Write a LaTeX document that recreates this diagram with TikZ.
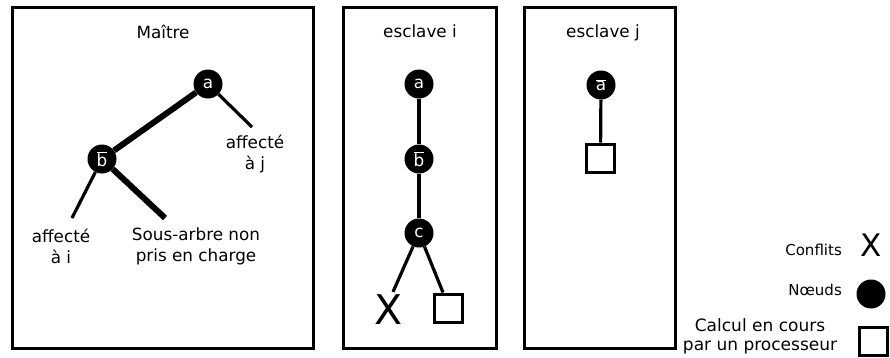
\documentclass[tikz,border=0pt]{standalone}
\usepackage{fontspec}
\setmainfont{DejaVu Sans}
\begin{document}
\begin{tikzpicture}[x=1pt,y=-1pt,
  panel/.style={draw,line width=3pt},
  nd/.style={circle,fill=black,minimum size=29pt,inner sep=0pt,text=white,font=\fontsize{16.8}{20}\selectfont},
  sq/.style={draw,line width=3pt,minimum size=28pt,inner sep=0pt,fill=white},
  cx/.style={inner sep=0pt,font=\fontsize{41}{41}\selectfont},
  lbl/.style={align=center,inner sep=0pt,font=\fontsize{16.8}{21}\selectfont},
  thin/.style={line width=3.2pt},
  thick/.style={line width=6pt}
]
\useasboundingbox (0,0) rectangle (890,357);
% panels
\draw[panel] (12,7) rectangle (313,348);
\draw[panel] (343,7) rectangle (496,348);
\draw[panel] (524,7) rectangle (675,348);
% titles
\node[lbl,anchor=base] (tm) at (163,38) {Maître};
\node[lbl,anchor=base] (ti) at (420,37) {esclave i};
\node[lbl,anchor=base] (tj) at (603,37) {esclave j};
% master tree
\node[nd] (ma) at (208,84) {a};
\node[nd] (mb) at (102,159) {$\overline{\mbox{b}}$};
\coordinate (maj) at (252,127);
\coordinate (mbi) at (72,218);
\coordinate (mbs) at (165,218);
\draw[thick] (ma) -- (mb);
\draw[thin] (ma) -- (maj);
\draw[thin] (mb) -- (mbi);
\draw[thick] (mb) -- (mbs);
\node[lbl] (lj) at (255,154) {affecté\\à j};
\node[lbl] (li) at (61,246) {affecté\\à i};
\node[lbl] (ls) at (196,246) {Sous-arbre non\\pris en charge};
% esclave i
\node[nd] (ia) at (419,84) {a};
\node[nd] (ib) at (419,159) {$\overline{\mbox{b}}$};
\node[nd] (ic) at (419,233) {c};
\node[cx] (ix) at (389,310) {X};
\node[sq] (is) at (448,308) {};
\draw[thin] (ia) -- (ib);
\draw[thin] (ib) -- (ic);
\draw[thin] (ic) -- ([xshift=4pt,yshift=3pt]ix.north);
\draw[thin] (ic) -- (is.north west -| 443,0);
% esclave j
\node[nd] (ja) at (601,85) {$\overline{\mbox{a}}$};
\node[sq] (js) at (600.5,158) {};
\draw[thin] (ja) -- (js);
% legend
\node[inner sep=0pt,anchor=base east,font=\fontsize{15}{18}\selectfont] (lc) at (842,255) {Conflits};
\node[inner sep=0pt,font=\fontsize{31}{31}\selectfont] (lx) at (871,245) {X};
\node[inner sep=0pt,anchor=base east,font=\fontsize{15}{18}\selectfont] (ln) at (842,295) {Nœuds};
\node[circle,fill=black,minimum size=29pt,inner sep=0pt] (lo) at (871,294) {};
\node[align=center,inner sep=0pt,font=\fontsize{17}{19}\selectfont] (lp) at (760,336) {Calcul en cours\\par un processeur};
\node[sq] (ls2) at (873.5,341.5) {};
\end{tikzpicture}
\end{document}
